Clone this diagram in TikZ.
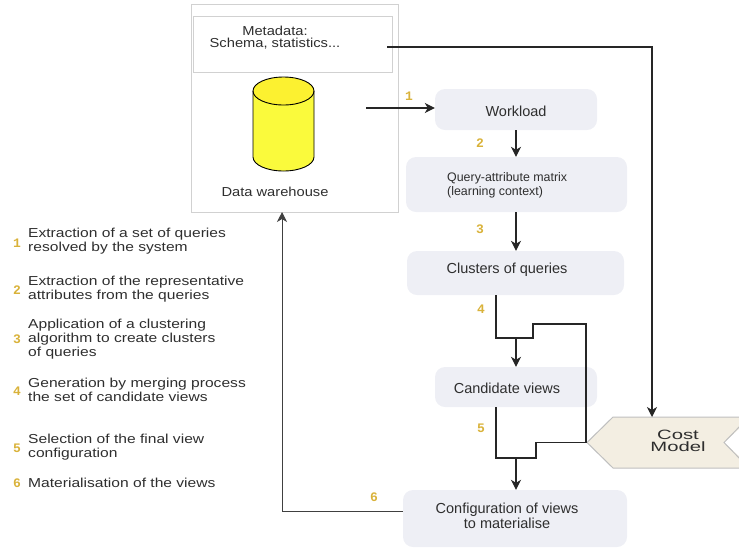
\documentclass[tikz,border=0pt]{standalone}
\usepackage{fontspec}
\setmainfont{Liberation Sans}
\newfontfamily\legf{Liberation Sans}[FakeStretch=1.2]
\newfontfamily\midf{Liberation Sans}[FakeStretch=1.13]
\newfontfamily\costf{Liberation Sans}[FakeStretch=1.5]
\newfontfamily\numf{Liberation Mono}
\usetikzlibrary{arrows.meta}
\definecolor{txt}{HTML}{2E2E2E}
\definecolor{gold}{HTML}{D9B23A}
\definecolor{boxfill}{HTML}{EEEFF5}
\definecolor{costfill}{HTML}{F3EEE2}
\definecolor{cylfill}{HTML}{FAFA3C}
\tikzset{
  stepbox/.style={fill=boxfill, rounded corners=10pt, inner sep=0pt},
  maintxt/.style={text=txt, font=\fontsize{14.5}{16}\selectfont, inner sep=0pt},
  legtxt/.style={text=txt, font=\legf\fontsize{13}{14}\selectfont, align=left, anchor=west, inner sep=0pt},
  num/.style={text=gold, font=\numf\bfseries\fontsize{13}{13}\selectfont, inner sep=0pt},
  thickconn/.style={line width=1.8pt, draw=black!85},
  arr/.style={-{Stealth[length=10pt,width=10pt,inset=3pt]}, line width=1.1pt, draw=black!85},
}
\begin{document}
\begin{tikzpicture}[x=1pt,y=-1pt]
\useasboundingbox (0,0) rectangle (739,550);
% data warehouse box
\node[draw=black!18, line width=0.9pt, minimum width=207pt, minimum height=208pt, anchor=north west, inner sep=0pt] (dw) at (191,4) {};
\node[draw=black!18, line width=0.8pt, minimum width=199pt, minimum height=56pt, anchor=north west, inner sep=0pt] (meta) at (193,16) {};
\node[text=txt, font=\midf\fontsize{13}{12}\selectfont, align=center, inner sep=0pt] (metaT) at (275,38) {Metadata:\\Schema, statistics...};
% cylinder
\fill[cylfill] (253,91) -- (253,157) arc[start angle=180, end angle=360, x radius=30.5pt, y radius=14pt] -- (314,91) arc[start angle=0, end angle=180, x radius=30.5pt, y radius=14pt] -- cycle;
\fill[yellow!25!cylfill] (283.5,91) ellipse[x radius=30.5pt, y radius=14pt];
\draw[black, line width=0.9pt] (253,91) -- (253,157) arc[start angle=180, end angle=360, x radius=30.5pt, y radius=14pt] -- (314,91);
\draw[black, line width=0.9pt] (283.5,91) ellipse[x radius=30.5pt, y radius=14pt];
\node[text=txt, font=\midf\fontsize{13}{14}\selectfont, inner sep=0pt] (dwT) at (275,192) {Data warehouse};
% step boxes
\node[stepbox, minimum width=162pt, minimum height=41pt] (wl) at (516,109.5) {};
\node[maintxt] (wlT) at (516,111) {Workload};
\node[stepbox, minimum width=221pt, minimum height=55pt] (qa) at (516.5,184.5) {};
\node[text=txt, font=\fontsize{12.4}{14}\selectfont, align=left, anchor=west, inner sep=0pt] (qaT) at (447,185) {Query-attribute matrix\\(learning context)};
\node[stepbox, minimum width=217pt, minimum height=44pt] (cl) at (515.5,273) {};
\node[maintxt] (clT) at (507,269.5) {Clusters of queries};
\node[stepbox, minimum width=162pt, minimum height=40pt] (cv) at (516,387) {};
\node[maintxt] (cvT) at (507,388.5) {Candidate views};
\node[stepbox, minimum width=224pt, minimum height=57pt] (cf) at (515,518.5) {};
\node[maintxt, align=center, font=\fontsize{14.5}{15}\selectfont] (cfT) at (507,516) {Configuration of views\\to materialise};
% cost model
\fill[costfill] (587,442.5) -- (613,417) -- (752,417) -- (724,442.5) -- (752,468) -- (613,468) -- cycle;
\draw[black!25, line width=1pt] (752,417) -- (613,417) -- (587,442.5) -- (613,468) -- (752,468);
\draw[black!25, line width=1pt] (745,421) -- (724,442.5) -- (745,464);
\coordinate (cmtip) at (587,442.5);
\coordinate (cmtop) at (652,417);
\node[text=txt, font=\costf\fontsize{13.5}{12}\selectfont, align=center, inner sep=0pt] (cmT) at (678,441) {Cost\\Model};
% connectors
\coordinate (a1s) at (366,108);
\draw[arr] (a1s) -- (wl.west |- a1s);
\draw[arr] (wl.south -| wlT) -- (qa.north -| wlT);
\draw[arr] (qa.south -| wlT) -- (cl.north -| wlT);
\coordinate (j4) at (516,338);
\draw[thickconn, line join=miter] (496,295) -- (496,338) -- (533,338) -- (533,324) -- (586,324) -- (586,442.5) -- (cmtip);
\draw[arr] (j4) -- (cv.north -| j4);
\coordinate (j5) at (516,458);
\draw[thickconn, line join=miter] (496,407) -- (496,458) -- (536,458) -- (536,442.5) -- (cmtip);
\draw[arr] (j5) -- (cf.north -| j5);
\coordinate (m1) at (387,47);
\draw[arr] (m1) -- (cmtop |- m1) -- (cmtop);
\draw[-{Stealth[length=10pt,width=10pt,inset=3pt]}, line width=0.9pt, draw=black!75] (cf.west |- 0,511) -- (282,511) -- (282,212);
% step numbers
\node[num] (n1) at (409,96) {1};
\node[num] (n2) at (480,143) {2};
\node[num] (n3) at (480,229) {3};
\node[num] (n4) at (481,309) {4};
\node[num] (n5) at (481,428) {5};
\node[num] (n6) at (374,497) {6};
% legend
\node[num] (l1) at (17,243) {1};
\node[legtxt] (t1) at (28,241.5) {Extraction of a set of queries\\resolved by the system};
\node[num] (l2) at (17,290) {2};
\node[legtxt] (t2) at (28,289.5) {Extraction of the representative\\attributes from the queries};
\node[num] (l3) at (17,339) {3};
\node[legtxt] (t3) at (28,339) {Application of a clustering\\algorithm to create clusters\\of queries};
\node[num] (l4) at (17,391) {4};
\node[legtxt] (t4) at (28,390) {Generation by merging process\\the set of candidate views};
\node[num] (l5) at (17,448) {5};
\node[legtxt] (t5) at (28,447.5) {Selection of the final view\\configuration};
\node[num] (l6) at (17,483) {6};
\node[legtxt] (t6) at (28,483) {Materialisation of the views};
\end{tikzpicture}
\end{document}
